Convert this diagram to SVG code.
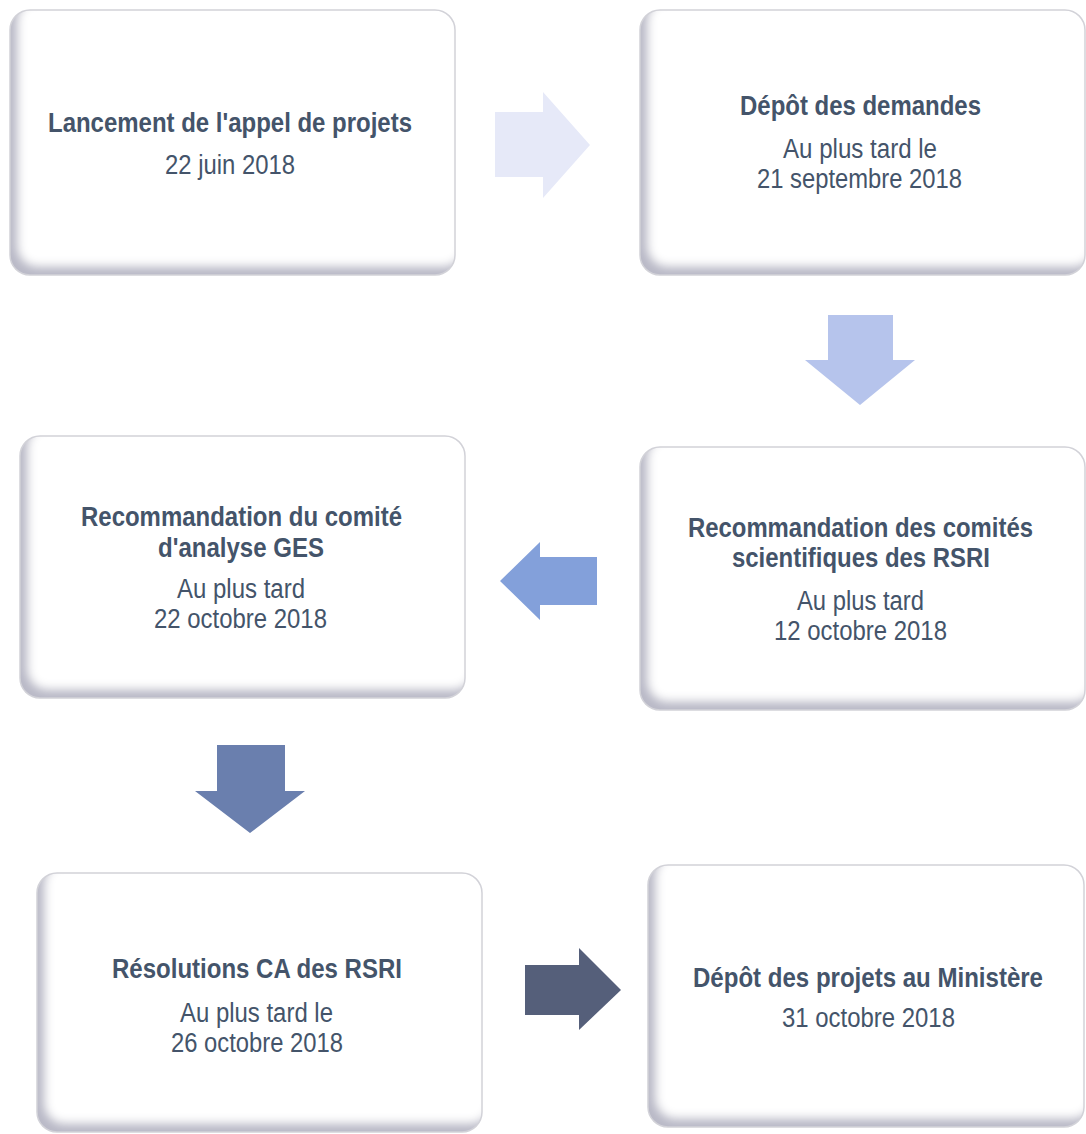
<svg xmlns="http://www.w3.org/2000/svg" width="1086" height="1134" viewBox="0 0 1086 1134">
<defs>
<style>
.box{fill:#ffffff;filter:url(#bevel)}
.edge{fill:none;stroke:#d2d2d8;stroke-width:1.5}
text{font-family:"Liberation Sans Narrow","Arial Narrow","Liberation Sans",Arial,sans-serif;font-size:27px;fill:#44546a;text-anchor:middle}
.t{font-weight:bold}
.s{font-weight:normal}
</style>
<filter id="bevel" x="-10%" y="-10%" width="120%" height="120%">
<feComponentTransfer in="SourceAlpha" result="inv"><feFuncA type="table" tableValues="1 0"/></feComponentTransfer>
<feOffset in="inv" dx="8" dy="-9" result="off"/>
<feGaussianBlur in="off" stdDeviation="5" result="blur"/>
<feFlood flood-color="#a9a9bb" flood-opacity="0.85"/>
<feComposite in2="blur" operator="in" result="sh"/>
<feComposite in="sh" in2="SourceAlpha" operator="in" result="ish"/>
<feMerge><feMergeNode in="SourceGraphic"/><feMergeNode in="ish"/></feMerge>
</filter>
</defs>
<rect width="1086" height="1134" fill="#ffffff"/>

<g id="connectors">
<polygon points="495,112 543,112 543,92 590,145 543,198 543,177 495,177" fill="#e6e9f8"/>
<polygon points="828,315 893,315 893,360 915,360 860,405 805,360 828,360" fill="#b6c4ec"/>
<polygon points="597,557 540,557 540,542 500,581 540,620 540,605 597,605" fill="#83a0da"/>
<polygon points="217,745 285,745 285,791 305,791 250,833 195,791 217,791" fill="#6a7fae"/>
<polygon points="525,965 579,965 579,948 621,990 579,1030 579,1015 525,1015" fill="#555f7a"/>
</g>

<g id="n1">
<rect class="box" x="10" y="10" width="445" height="265" rx="20"/>
<rect class="edge" x="10" y="10" width="445" height="265" rx="20"/>
<text class="t" x="230" y="132" textLength="364" lengthAdjust="spacingAndGlyphs">Lancement de l'appel de projets</text>
<text class="s" x="230" y="174" textLength="130" lengthAdjust="spacingAndGlyphs">22 juin 2018</text>
</g>

<g id="n2">
<rect class="box" x="640" y="10" width="445" height="265" rx="20"/>
<rect class="edge" x="640" y="10" width="445" height="265" rx="20"/>
<text class="t" x="860.5" y="115" textLength="241" lengthAdjust="spacingAndGlyphs">Dépôt des demandes</text>
<text class="s" x="860" y="158" textLength="154" lengthAdjust="spacingAndGlyphs">Au plus tard le</text>
<text class="s" x="859.5" y="188" textLength="205" lengthAdjust="spacingAndGlyphs">21 septembre 2018</text>
</g>

<g id="n3">
<rect class="box" x="20" y="436" width="445" height="262" rx="20"/>
<rect class="edge" x="20" y="436" width="445" height="262" rx="20"/>
<text class="t" x="241.5" y="526" textLength="321" lengthAdjust="spacingAndGlyphs">Recommandation du comité</text>
<text class="t" x="241" y="557" textLength="166" lengthAdjust="spacingAndGlyphs">d'analyse GES</text>
<text class="s" x="241" y="598" textLength="128" lengthAdjust="spacingAndGlyphs">Au plus tard</text>
<text class="s" x="240.5" y="628" textLength="173" lengthAdjust="spacingAndGlyphs">22 octobre 2018</text>
</g>

<g id="n4">
<rect class="box" x="640" y="447" width="445" height="263" rx="20"/>
<rect class="edge" x="640" y="447" width="445" height="263" rx="20"/>
<text class="t" x="860.5" y="537" textLength="345" lengthAdjust="spacingAndGlyphs">Recommandation des comités</text>
<text class="t" x="861" y="567" textLength="258" lengthAdjust="spacingAndGlyphs">scientifiques des RSRI</text>
<text class="s" x="860.5" y="610" textLength="127" lengthAdjust="spacingAndGlyphs">Au plus tard</text>
<text class="s" x="860.5" y="640" textLength="173" lengthAdjust="spacingAndGlyphs">12 octobre 2018</text>
</g>

<g id="n5">
<rect class="box" x="37" y="873" width="445" height="259" rx="20"/>
<rect class="edge" x="37" y="873" width="445" height="259" rx="20"/>
<text class="t" x="257" y="978" textLength="290" lengthAdjust="spacingAndGlyphs">Résolutions CA des RSRI</text>
<text class="s" x="256.5" y="1022" textLength="153" lengthAdjust="spacingAndGlyphs">Au plus tard le</text>
<text class="s" x="257" y="1052" textLength="172" lengthAdjust="spacingAndGlyphs">26 octobre 2018</text>
</g>

<g id="n6">
<rect class="box" x="648" y="865" width="436" height="262" rx="20"/>
<rect class="edge" x="648" y="865" width="436" height="262" rx="20"/>
<text class="t" x="868" y="987" textLength="350" lengthAdjust="spacingAndGlyphs">Dépôt des projets au Ministère</text>
<text class="s" x="868.5" y="1027" textLength="173" lengthAdjust="spacingAndGlyphs">31 octobre 2018</text>
</g>
</svg>
